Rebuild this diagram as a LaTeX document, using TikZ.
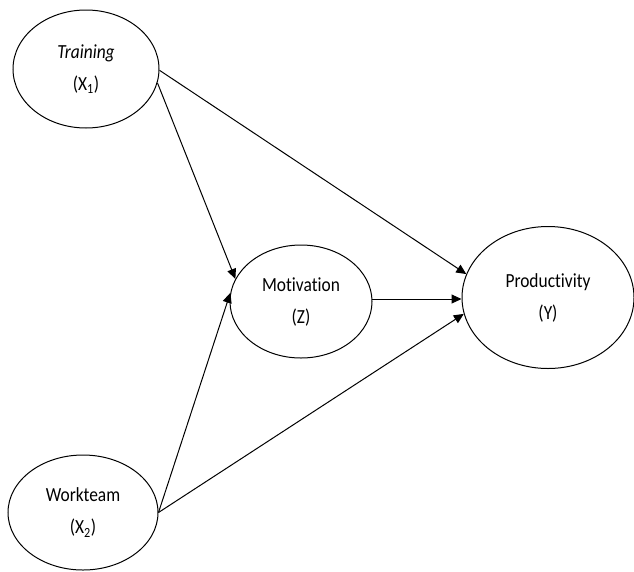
\documentclass[tikz,border=0pt]{standalone}
\usepackage{fontspec}
\setmainfont[FakeStretch=0.87, Ligatures=NoCommon]{Carlito}
\usetikzlibrary{shapes.geometric,arrows.meta}
\tikzset{
  var/.style={ellipse, draw, line width=1pt, inner sep=0pt, align=center,
    font=\fontsize{20}{32}\selectfont},
  conn/.style={line width=1pt, -{Triangle[length=10pt,width=9pt]}}
}
\begin{document}
\begin{tikzpicture}[x=1pt,y=-1pt]
\useasboundingbox (0,0) rectangle (634,571);
\node[var, minimum width=146pt, minimum height=118pt] (t) at (86,69) {\textit{Training}\\(X\textsubscript{1})};
\node[var, minimum width=150pt, minimum height=115pt] (w) at (83,512.5) {Workteam\\(X\textsubscript{2})};
\node[var, minimum width=142pt, minimum height=113pt] (m) at (301,301.5) {Motivation\\(Z)};
\node[var, minimum width=172pt, minimum height=142pt] (p) at (548,297.5) {Productivity\\(Y)};
\draw[conn] (t.-1) -- (p.164);
\draw[conn] (t.-11) -- (m.161);
\draw[conn] (w.east) -- (m.173);
\draw[conn] (w.east) -- (p.-169);
\draw[conn] (m.2) -- (m.2 -| p.west);
\end{tikzpicture}
\end{document}
